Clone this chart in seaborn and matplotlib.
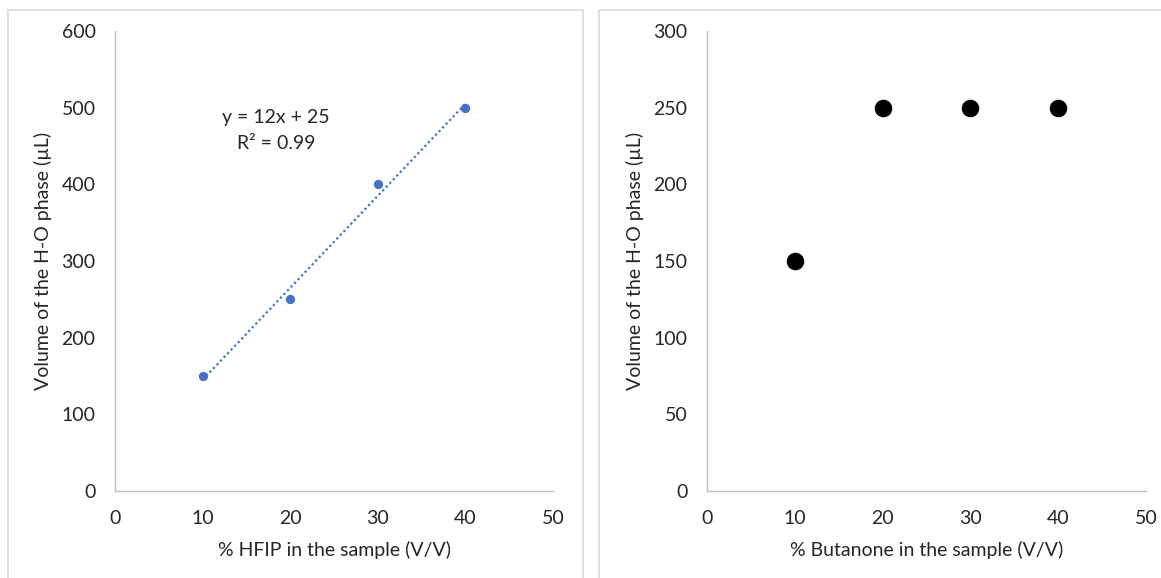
import matplotlib
matplotlib.use("Agg")
import matplotlib.pyplot as plt
from matplotlib.patches import Rectangle
import numpy as np
import pandas as pd
import seaborn as sns

# Phase volume vs. organic solvent content
hfip_pct = [10, 20, 30, 40]
hfip_volume = [150, 250, 400, 500]
butanone_pct = [10, 20, 30, 40]
butanone_volume = [150, 250, 250, 250]

x_ticks = [0, 10, 20, 30, 40, 50]
hfip_y_ticks = [0, 100, 200, 300, 400, 500, 600]
butanone_y_ticks = [0, 50, 100, 150, 200, 250, 300]

y_label = "Volume of the H-O phase (\u00b5L)"
hfip_x_label = "% HFIP in the sample (V/V)"
butanone_x_label = "% Butanone in the sample (V/V)"

sns.set_theme(style="white")
plt.rcParams["font.family"] = ["Lato", "DejaVu Sans"]

W, H = 1161, 578
fig = plt.figure(figsize=(W / 100, H / 100), dpi=100)
fig.patch.set_facecolor("white")

# chart-area frames
frame_kw = dict(transform=fig.transFigure, fill=False, edgecolor="#d9d9d9", linewidth=1.2)
fig.patches.append(Rectangle((8 / W, -0.01), (583 - 8) / W, 1 - 10 / H + 0.01, **frame_kw))
fig.patches.append(Rectangle((599 / W, -0.01), (1170 - 599) / W, 1 - 10 / H + 0.01, **frame_kw))

axis_color = "#bfbfbf"
text_color = "#262626"
tick_size = 14
label_size = 14


def style_axes(ax, yticks, xlabel):
    ax.set_xlim(0, 50)
    ax.set_ylim(yticks[0], yticks[-1])
    ax.set_xticks(x_ticks)
    ax.set_yticks(yticks)
    ax.tick_params(axis="both", length=0, labelsize=tick_size, colors=text_color)
    ax.tick_params(axis="x", pad=14)
    ax.tick_params(axis="y", pad=14)
    for side in ("top", "right"):
        ax.spines[side].set_visible(False)
    for side in ("left", "bottom"):
        ax.spines[side].set_color(axis_color)
        ax.spines[side].set_linewidth(1.0)
    ax.set_xlabel(xlabel, fontsize=label_size, color=text_color, labelpad=10)
    ax.set_ylabel(y_label, fontsize=label_size, color=text_color, labelpad=7)
    ax.grid(False)
    ax.set_facecolor("none")


ax1 = fig.add_axes([115 / W, 1 - 491 / H, 438 / W, 460 / H])
ax2 = fig.add_axes([707 / W, 1 - 491 / H, 439 / W, 460 / H])

blue = "#4472C4"
df1 = pd.DataFrame({"pct": hfip_pct, "vol": hfip_volume})
sns.regplot(data=df1, x="pct", y="vol", ax=ax1, ci=None, color=blue,
            scatter_kws=dict(s=45, linewidths=0, alpha=1, zorder=3),
            line_kws=dict(linestyle=(0, (1, 1.3)), linewidth=1.6))

# linear fit annotation
slope, intercept = np.polyfit(hfip_pct, hfip_volume, 1)
pred = np.polyval([slope, intercept], hfip_pct)
ss_res = np.sum((np.array(hfip_volume) - pred) ** 2)
ss_tot = np.sum((np.array(hfip_volume) - np.mean(hfip_volume)) ** 2)
r2 = 1 - ss_res / ss_tot
ax1.text(18.4, 498, f"y = {slope:.0f}x + {intercept:.0f}\nR\u00b2 = {r2:.2f}",
         ha="center", va="top", fontsize=14, color=text_color, linespacing=1.6)

df2 = pd.DataFrame({"pct": butanone_pct, "vol": butanone_volume})
sns.scatterplot(data=df2, x="pct", y="vol", ax=ax2, color="black", s=160,
                linewidth=0, zorder=3)

style_axes(ax1, hfip_y_ticks, hfip_x_label)
style_axes(ax2, butanone_y_ticks, butanone_x_label)
for ax in (ax1, ax2):
    for sp in ax.spines.values():
        sp.set_zorder(1)

fig.savefig("out.png", dpi=100, facecolor="white")
